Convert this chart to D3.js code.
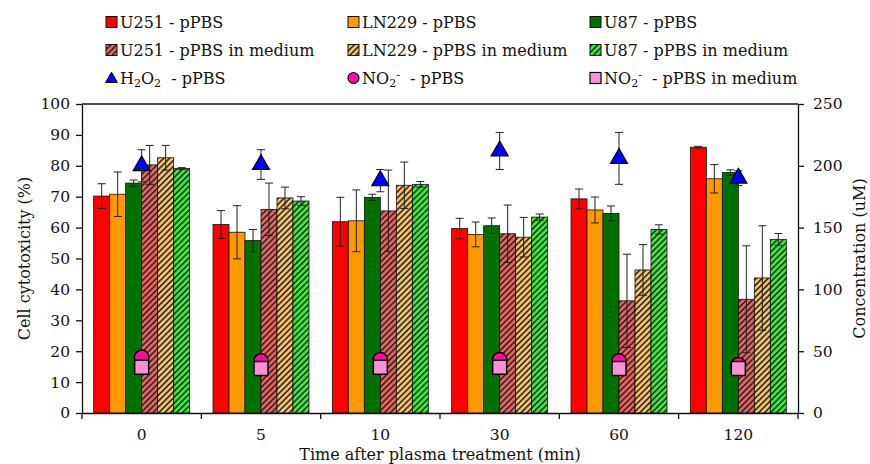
<!DOCTYPE html>
<html>
<head>
  <meta http-equiv="Content-Type" content="text/html;charset=utf-8">
  <title>Cell cytotoxicity</title>
  <script src="https://d3js.org/d3.v7.min.js"></script>
  <style type="text/css">
    body { margin: 0; background: #fff; }
    text { font-family: "DejaVu Serif", serif; fill: #111; }
    .axis path, .axis line { stroke: #111; stroke-width: 1.3px; }
  </style>
</head>
<body>
  <svg width="870" height="464"></svg>
  <script type='text/javascript'>
    const groups = ["0", "5", "10", "30", "60", "120"];
    const series = ["U251 - pPBS", "LN229 - pPBS", "U87 - pPBS",
      "U251 - pPBS in medium", "LN229 - pPBS in medium", "U87 - pPBS in medium"];

    const u251 = [70.2, 61.0, 61.9, 59.7, 69.3, 86.0];
    const u251Err = [4.0, 4.5, 7.9, 3.3, 3.2, 0.3];
    const ln229 = [70.8, 58.5, 62.2, 57.8, 65.7, 75.8];
    const ln229Err = [7.2, 8.6, 10.0, 4.0, 4.2, 4.6];
    const u87 = [74.4, 55.8, 69.8, 60.6, 64.6, 77.8];
    const u87Err = [1.0, 3.6, 1.0, 2.5, 2.4, 0.9];
    const u251Med = [80.3, 65.9, 65.4, 58.0, 36.3, 36.8];
    const u251MedErr = [6.3, 8.5, 13.2, 9.3, 15.1, 17.3];
    const ln229Med = [82.6, 69.6, 73.7, 56.9, 46.3, 43.7];
    const ln229MedErr = [4.0, 3.5, 7.5, 6.4, 8.2, 16.9];
    const u87Med = [79.1, 68.6, 74.0, 63.4, 59.4, 56.2];
    const u87MedErr = [0.3, 1.4, 0.9, 1.0, 1.5, 1.9];

    // right axis (uM)
    const h2o2 = [200, 201, 188, 212, 206, 190];
    const h2o2Err = [13, 12, 9, 15, 21, 6];
    const no2 = [45, 42, 43, 43, 42, 39];
    const no2Med = [37, 36, 37, 37, 36, 36];

    const leftTicks = [0, 10, 20, 30, 40, 50, 60, 70, 80, 90, 100];
    const rightTicks = [0, 50, 100, 150, 200, 250];

    const barValues = [u251, ln229, u87, u251Med, ln229Med, u87Med];
    const barErrors = [u251Err, ln229Err, u87Err, u251MedErr, ln229MedErr, u87MedErr];
    const fills = ["#ff0000", "#ff9900", "#007000", "url(#hU251)", "url(#hLN229)", "url(#hU87)"];

    const svg = d3.select('svg');
    const m = { left: 82, right: 798, top: 104, bottom: 413 };
    const font = '"DejaVu Serif", serif';

    // hatch patterns
    const defs = svg.append('defs');
    [["hU251", "#f2605c"], ["hLN229", "#f8c264"], ["hU87", "#33f033"]].forEach(([id, c]) => {
      const p = defs.append('pattern').attr('id', id)
        .attr('patternUnits', 'userSpaceOnUse')
        .attr('width', 4.2).attr('height', 4.2)
        .attr('patternTransform', 'rotate(45)');
      p.append('rect').attr('width', 4.2).attr('height', 4.2).attr('fill', c);
      p.append('rect').attr('width', 1.6).attr('height', 4.2).attr('fill', '#2a2a2a');
    });

    const x0 = d3.scaleBand().domain(groups).range([m.left, m.right]);
    const x1 = d3.scaleBand().domain(series).range([0, x0.bandwidth()]).paddingOuter(0.73);
    const y = d3.scaleLinear().domain([0, 100]).range([m.bottom, m.top]);
    const y2 = d3.scaleLinear().domain([0, 250]).range([m.bottom, m.top]);

    const table = [];
    series.forEach((s, si) => groups.forEach((g, gi) => {
      table.push({ s, g, v: barValues[si][gi], e: barErrors[si][gi], fill: fills[si] });
    }));

    svg.append('g').selectAll('rect')
      .data(table)
      .enter().append('rect')
        .attr('x', d => x0(d.g) + x1(d.s))
        .attr('y', d => y(d.v))
        .attr('width', x1.bandwidth())
        .attr('height', d => y(0) - y(d.v))
        .attr('fill', d => d.fill)
        .attr('stroke', '#111')
        .attr('stroke-width', 0.8);

    function errorBar(sel, cx, lo, hi) {
      sel.append('line').attr('x1', cx).attr('x2', cx).attr('y1', lo).attr('y2', hi);
      sel.append('line').attr('x1', cx - 4).attr('x2', cx + 4).attr('y1', lo).attr('y2', lo);
      sel.append('line').attr('x1', cx - 4).attr('x2', cx + 4).attr('y1', hi).attr('y2', hi);
    }

    const eb = svg.append('g').attr('stroke', '#222').attr('stroke-width', 1);
    table.forEach(d => {
      const cx = x0(d.g) + x1(d.s) + x1.bandwidth() / 2;
      errorBar(eb, cx, y(d.v - d.e), y(d.v + d.e));
    });

    const cxG = g => x0(g) + x0.bandwidth() / 2;

    // H2O2 error bars and triangles
    groups.forEach((g, i) => errorBar(eb, cxG(g), y2(h2o2[i] - h2o2Err[i]), y2(h2o2[i] + h2o2Err[i])));
    svg.append('g').selectAll('path')
      .data(groups)
      .enter().append('path')
        .attr('d', d3.symbol().type(d3.symbolTriangle).size(125))
        .attr('transform', (g, i) => `translate(${cxG(g)},${y2(h2o2[i])})`)
        .attr('fill', '#0000ff').attr('stroke', '#000').attr('stroke-width', 1.2);

    svg.append('g').selectAll('circle')
      .data(groups)
      .enter().append('circle')
        .attr('cx', g => cxG(g))
        .attr('cy', (g, i) => y2(no2[i]))
        .attr('r', 7.3)
        .attr('fill', '#ff0a9e').attr('stroke', '#000').attr('stroke-width', 1.5);

    svg.append('g').selectAll('rect')
      .data(groups)
      .enter().append('rect')
        .attr('x', g => cxG(g) - 7)
        .attr('y', (g, i) => y2(no2Med[i]) - 7)
        .attr('width', 14).attr('height', 14)
        .attr('fill', '#ff90d8').attr('stroke', '#000').attr('stroke-width', 1.5);

    // frame and axes
    svg.append('line').attr('x1', m.left).attr('x2', m.right).attr('y1', m.top).attr('y2', m.top)
      .attr('stroke', '#111').attr('stroke-width', 1.3);

    const gl = svg.append('g').attr('class', 'axis').attr('transform', `translate(${m.left},0)`)
      .call(d3.axisLeft(y).tickValues(leftTicks).tickSize(6).tickSizeOuter(0).tickPadding(6));
    const gr = svg.append('g').attr('class', 'axis').attr('transform', `translate(${m.right},0)`)
      .call(d3.axisRight(y2).tickValues(rightTicks).tickSize(6).tickSizeOuter(0).tickPadding(9));
    const gb = svg.append('g').attr('class', 'axis').attr('transform', `translate(0,${m.bottom})`)
      .call(d3.axisBottom(x0).tickSize(0).tickPadding(16));
    gb.selectAll('.tick line').remove();
    const bounds = groups.map(g => x0(g)).concat([m.right]);
    gb.selectAll('.bound').data(bounds).enter().append('line')
      .attr('class', 'bound').attr('x1', d => d).attr('x2', d => d).attr('y1', 0).attr('y2', 6);

    [gl, gr, gb].forEach(a => a.selectAll('text').style('font-size', '15.5px')
      .style('font-family', font).attr('fill', '#111'));

    svg.append('text').attr('x', (m.left + m.right) / 2).attr('y', 460)
      .attr('text-anchor', 'middle').style('font-size', '16px')
      .text('Time after plasma treatment (min)');
    svg.append('text').attr('transform', `translate(30,${(m.top + m.bottom) / 2}) rotate(-90)`)
      .attr('text-anchor', 'middle').style('font-size', '16px')
      .text('Cell cytotoxicity (%)');
    svg.append('text').attr('transform', `translate(865,${(m.top + m.bottom) / 2}) rotate(-90)`)
      .attr('text-anchor', 'middle').style('font-size', '16px')
      .text('Concentration (uM)');

    // legend
    const colX = [106, 348, 590];
    const rowY = [22, 50, 78];
    const leg = svg.append('g');
    series.forEach((s, i) => {
      const lx = colX[i % 3], ly = rowY[Math.floor(i / 3)];
      leg.append('rect').attr('x', lx).attr('y', ly - 5.5).attr('width', 11).attr('height', 11)
        .attr('fill', fills[i]).attr('stroke', '#111').attr('stroke-width', 1);
      leg.append('text').attr('x', lx + 14).attr('y', ly + 5.5).style('font-size', '16px').text(s);
    });
    leg.append('path').attr('d', d3.symbol().type(d3.symbolTriangle).size(60))
      .attr('transform', `translate(${colX[0] + 5.5},${rowY[2] + 1})`)
      .attr('fill', '#0000ff').attr('stroke', '#000');
    leg.append('circle').attr('cx', colX[1] + 5.5).attr('cy', rowY[2]).attr('r', 5.5)
      .attr('fill', '#ff0a9e').attr('stroke', '#000').attr('stroke-width', 1.2);
    leg.append('rect').attr('x', colX[2]).attr('y', rowY[2] - 5.5).attr('width', 11).attr('height', 11)
      .attr('fill', '#ff90d8').attr('stroke', '#000').attr('stroke-width', 1.2);

    const t1 = leg.append('text').attr('x', colX[0] + 14).attr('y', rowY[2] + 5.5).style('font-size', '16px');
    t1.append('tspan').text('H');
    t1.append('tspan').attr('baseline-shift', '-30%').style('font-size', '11px').text('2');
    t1.append('tspan').text('O');
    t1.append('tspan').attr('baseline-shift', '-30%').style('font-size', '11px').text('2');
    t1.append('tspan').text('\u00a0 - pPBS');

    [[colX[1], ' - pPBS'], [colX[2], ' - pPBS in medium']].forEach(([lx, rest]) => {
      const t = leg.append('text').attr('x', lx + 14).attr('y', rowY[2] + 5.5).style('font-size', '16px');
      t.append('tspan').text('NO');
      t.append('tspan').attr('baseline-shift', '-30%').style('font-size', '11px').text('2');
      t.append('tspan').attr('baseline-shift', '45%').style('font-size', '11px').text('-');
      t.append('tspan').text('\u00a0' + rest);
    });
  </script>
</body>
</html>
